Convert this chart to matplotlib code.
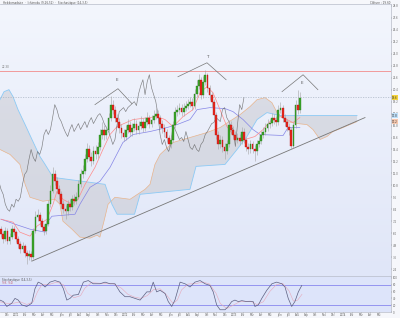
import numpy as np
import matplotlib
matplotlib.use('Agg')
import matplotlib.pyplot as plt
from matplotlib.colors import LinearSegmentedColormap

# weekly candles (week 0 .. 139), open = previous close
first_open = 6.4
close = [5.9, 5.4, 6.2, 5.2, 5.6, 6.4, 6.1, 5.4, 4.9, 4.4,
         4.7, 4.0, 3.7, 3.9, 3.6, 6.2, 7.6, 7.8, 7.2, 6.6,
         6.2, 6.9, 8.9, 10.2, 11.9, 11.2, 10.4, 9.9, 8.9, 8.4,
         8.2, 8.9, 8.6, 9.4, 9.2, 9.6, 10.9, 11.9, 12.2, 13.4,
         14.4, 13.6, 13.2, 14.2, 13.9, 14.6, 15.9, 16.4, 15.9, 16.4,
         17.6, 18.9, 18.4, 17.6, 17.2, 16.6, 16.1, 15.7, 16.4, 16.9,
         16.2, 16.6, 17.0, 16.4, 16.8, 17.2, 16.6, 17.2, 17.6, 17.0,
         17.4, 17.8, 18.0, 17.6, 17.0, 16.6, 16.2, 15.6, 14.9, 15.4,
         16.9, 18.2, 18.4, 18.6, 18.2, 18.6, 18.8, 19.0, 19.2, 18.8,
         20.0, 20.8, 21.4, 19.9, 21.2, 21.9, 20.6, 19.9, 19.2, 17.9,
         15.9, 14.9, 15.4, 14.6, 14.2, 14.9, 16.9, 16.4, 15.9, 15.4,
         15.6, 15.2, 16.2, 15.4, 14.6, 14.4, 14.9, 14.4, 14.2, 14.9,
         15.2, 15.9, 16.2, 16.6, 17.0, 17.1, 17.6, 17.4, 17.2, 18.4,
         18.6, 17.6, 17.2, 16.7, 16.4, 14.7, 16.9, 18.9, 18.4, 19.6]
high = [6.7, 6.2, 6.6, 6.5, 6.0, 6.8, 6.7, 6.3, 5.7, 5.2,
        5.1, 4.9, 4.3, 4.3, 4.2, 6.5, 8.2, 8.4, 8.1, 7.5,
        6.9, 7.3, 9.3, 10.8, 12.6, 12.3, 11.6, 10.8, 10.2, 9.3,
        8.8, 9.3, 9.4, 9.8, 9.9, 10.1, 11.3, 12.4, 12.8, 13.9,
        15.0, 14.8, 14.1, 14.7, 14.8, 15.1, 16.5, 17.2, 16.9, 16.8,
        18.1, 19.8, 19.4, 18.8, 18.0, 17.6, 17.0, 16.5, 16.9, 17.5,
        17.3, 17.1, 17.6, 17.4, 17.3, 17.8, 17.6, 17.7, 18.2, 17.9,
        17.9, 18.4, 18.6, 18.4, 17.9, 17.4, 17.0, 16.5, 15.9, 15.9,
        17.3, 18.7, 18.9, 19.1, 19.0, 19.1, 19.3, 19.5, 19.7, 19.6,
        20.5, 21.4, 22.0, 21.7, 21.8, 22.4, 22.1, 20.9, 20.2, 19.5,
        18.2, 16.3, 15.9, 15.8, 15.0, 15.4, 17.4, 17.3, 16.8, 16.3,
        16.1, 16.0, 16.7, 16.6, 15.7, 15.0, 15.4, 15.2, 14.8, 15.3,
        15.7, 16.3, 16.7, 17.1, 17.5, 17.5, 18.1, 18.0, 17.8, 18.9,
        19.2, 18.9, 18.0, 17.5, 17.1, 16.7, 17.2, 19.4, 20.4, 20.2]
low = [5.6, 5.0, 5.2, 4.9, 4.9, 5.4, 5.8, 5.1, 4.5, 4.0,
       4.1, 3.6, 2.9, 3.3, 3.2, 3.4, 6.0, 7.2, 6.8, 6.2,
       5.8, 5.9, 6.7, 8.6, 10.0, 10.8, 10.0, 9.4, 8.5, 8.0,
       7.4, 7.8, 8.2, 8.3, 8.8, 8.9, 9.4, 10.6, 11.5, 11.9,
       13.1, 13.2, 12.7, 12.9, 13.4, 13.5, 14.3, 15.5, 15.4, 15.5,
       16.1, 17.3, 18.0, 17.2, 16.7, 16.1, 15.6, 15.2, 15.4, 16.1,
       15.8, 15.8, 16.3, 16.0, 16.0, 16.5, 16.2, 16.3, 16.9, 16.6,
       16.7, 17.1, 17.5, 17.2, 16.6, 16.1, 15.7, 15.1, 14.4, 14.5,
       15.1, 16.6, 17.8, 18.0, 17.8, 17.8, 18.3, 18.5, 18.7, 18.4,
       18.5, 19.7, 20.5, 19.5, 19.6, 20.9, 20.2, 19.4, 18.7, 17.5,
       15.5, 14.4, 14.5, 14.1, 13.4, 13.9, 14.6, 16.0, 15.5, 15.0,
       15.0, 14.8, 14.9, 15.0, 14.2, 13.9, 14.0, 14.0, 13.2, 13.8,
       14.6, 14.9, 15.6, 15.9, 16.3, 16.6, 16.8, 17.0, 16.8, 16.9,
       18.1, 17.2, 16.8, 16.3, 15.9, 14.4, 14.5, 16.6, 18.0, 18.1]

# ichimoku lines (week, price)
tenkan_w = [0, 5.6, 8.8, 13.5, 16.7, 21.4, 24.2, 26.0, 28.8, 33.0, 35.8, 39.1,
            43.7, 47.4, 50.7, 54.0, 61.4, 72.6, 76.3, 80.0, 84.7, 89.3, 92.6,
            95.8, 98.6, 100.9, 105.1, 108.8, 113.5, 118.1, 121.9, 125.1, 129.8,
            133.0, 135.8, 139.0]
tenkan_p = [7.4, 7.1, 6.1, 5.7, 6.7, 7.4, 8.9, 10.2, 9.4, 8.9, 9.4, 10.9,
            12.6, 14.4, 15.9, 16.7, 17.4, 17.7, 17.4, 16.7, 17.7, 18.4, 20.1,
            20.7, 20.1, 18.9, 16.7, 15.6, 15.4, 15.7, 16.4, 17.2, 17.7,
            17.4, 17.1, 17.6]
kijun_w = [0, 6.5, 13.5, 20.5, 21.9, 23.7, 34.4, 36.7, 41.4, 46.0, 50.7, 56.7,
           61.4, 69.3, 77.2, 81.9, 87.9, 91.2, 97.2, 104.2, 107.9, 112.6, 117.2,
           120.5, 131.2, 133.5, 139.0]
kijun_p = [7.4, 6.9, 6.4, 6.1, 7.2, 7.7, 7.9, 8.9, 10.6, 11.2, 12.6, 15.1,
           15.9, 16.2, 16.6, 16.9, 17.4, 18.4, 18.6, 18.5, 18.2, 17.4, 16.4,
           15.9, 15.8, 16.6, 16.6]
spana_w = [-0.5, 4.2, 8.8, 11.2, 13.5, 19.5, 25.1, 27.4, 28.8, 33.0, 36.7, 41.4,
           44.7, 46.0, 47.9, 49.8, 53.0, 60.0, 67.0, 69.3, 71.6, 74.0, 80.0,
           87.9, 95.8, 101.9, 111.2, 115.8, 119.1, 122.8, 126.0, 128.4, 133.0,
           137.7, 142.3, 145.1, 148.4, 151.6, 154.4, 159.1, 162.3, 165.6]
spana_p = [14.4, 13.9, 12.9, 10.9, 9.6, 9.2, 9.4, 8.9, 7.2, 6.4, 5.6, 5.5,
           5.8, 5.6, 7.2, 8.9, 9.6, 9.4, 10.4, 10.9, 12.9, 13.9, 15.1,
           15.6, 16.1, 16.6, 17.9, 18.7, 19.4, 19.6, 19.1, 18.1, 17.2,
           17.0, 16.9, 16.4, 15.4, 15.7, 16.2, 16.6, 16.9, 17.2]
spanb_w = [-0.5, 1.4, 3.7, 5.6, 7.9, 11.2, 14.4, 18.1, 20.5, 24.2, 48.4, 51.6,
           54.0, 62.1, 64.7, 87.9, 90.7, 104.2, 109.8, 114.4, 119.1, 123.7,
           129.8, 165.6]
spanb_p = [19.4, 20.2, 20.4, 19.7, 18.4, 16.9, 15.4, 13.7, 12.9, 11.6, 10.9, 8.9,
           7.9, 7.9, 9.9, 10.4, 12.7, 12.9, 14.4, 15.7, 17.4, 18.1,
           17.8, 17.8]
chikou_shift = 26

# drawn objects: resistance, trend line, head & shoulders
resistance = 22.3
last_level = 19.7
trend_w = [14.4, 169.3]
trend_p = [3.2, 17.6]
hs_labels = ['E', 'T', 'E']
hs_w = [[43.7, 54.4, 60.9], [82.3, 95.8, 104.7], [130.7, 140.5, 147.4]]
hs_p = [[18.9, 20.5, 19.0], [21.7, 23.1, 21.4], [20.2, 21.9, 20.4]]
hs_lab_w = [54.0, 95.8, 140.0]
hs_lab_p = [21.4, 23.7, 21.1]

# stochastic %K and %D
stk_w = [-0.5, 1.1, 2.7, 5.0, 6.5, 8.0, 9.6, 12.0, 14.3, 15.8, 17.3, 18.9, 20.5,
         22.8, 25.1, 27.4, 29.0, 30.6, 32.1, 33.6, 36.0, 38.3, 40.6, 42.9, 46.0,
         48.4, 50.7, 53.0, 55.3, 57.7, 60.0, 62.3, 64.7, 67.8, 69.3, 70.8, 72.4,
         74.0, 76.3, 77.8, 79.4, 80.9, 83.3, 85.6, 87.9, 90.2, 92.6, 94.9, 97.2,
         98.7, 100.3, 101.9, 104.2, 105.7, 107.3, 108.8, 110.4, 112.0, 114.3,
         117.3, 118.1, 119.7, 121.3, 123.6, 126.0, 128.2, 130.6, 132.1, 133.6,
         135.2, 136.7, 138.3, 139.9]
stk_v = [35, 30.6, 16.3, 25.7, 40, 35, 20.9, 16.3, 25.7, 68.6, 87.7, 82.9, 73.4,
         87.7, 92.3, 87.7, 68.6, 35, 40, 49.4, 51.4, 87.7, 92.3, 82.9, 82.9,
         87.7, 82.9, 82.9, 59.1, 44.9, 44.9, 40, 35, 59.1, 59.1, 87.7, 59.1,
         63.7, 54.3, 30.6, 16.3, 35, 87.7, 82.9, 73.4, 87.7, 92.3, 82.9, 78,
         59.1, 20.9, 6.6, 6.6, 16.3, 30.6, 35, 30.6, 33.3, 30.6,
         30.6, 16.3, 20.9, 40, 63.7, 82.9, 87.7, 82.9, 73.4, 40,
         16.3, 30.6, 59.1, 78]
std_w = [-0.5, 3, 6, 9, 12, 15, 17, 19, 22, 26, 29, 31, 34, 37, 39, 42, 47, 52,
         56, 59, 62, 65, 68, 71, 74, 77, 80, 82, 84, 87, 91, 94, 97, 100, 102,
         105, 108, 111, 116, 119, 122, 125, 128, 131, 134, 136, 138, 140]
std_v = [30, 25, 26, 30, 22, 30, 60, 80, 80, 88, 80, 55, 42, 48, 70, 86, 84, 84,
         70, 52, 44, 40, 48, 66, 68, 50, 25, 35, 65, 82, 84, 88, 82, 55, 25,
         10, 20, 30, 32, 22, 30, 60, 80, 84, 62, 32, 35, 52]

month_names = ['Fév', 'Mar', 'Avr', 'Mai', 'Juin', 'Juil', 'Aoû', 'Sep', 'Oct', 'Nov', 'Déc']
years = ['2011', '2012', '2013', '2014']
first_month_week = 7.0
weeks_per_month = 4.22

close = np.array(close)
high = np.array(high)
low = np.array(low)
opn = np.r_[first_open, close[:-1]]
wk = np.arange(len(close))

fig = plt.figure(figsize=(4.0, 3.18), dpi=100)
fig.patch.set_facecolor('#f6f7fb')
ax = fig.add_axes([0.0, 42 / 318, 391 / 400, 272 / 318])
axs = fig.add_axes([0.0, 6 / 318, 391 / 400, 36 / 318])

xmin, xmax = -0.47, 181.4
ylo, yhi = 1.7, 29.0

bg = LinearSegmentedColormap.from_list('bg', ['#e0e6f8', '#f3f6fd'])
ax.imshow(np.linspace(0, 1, 256).reshape(-1, 1), extent=[0, 1, 0, 1],
          transform=ax.transAxes, cmap=bg, aspect='auto', origin='lower', zorder=0)
axs.set_facecolor('#dde4fa')

# cloud
ax.fill(np.r_[spana_w, spanb_w[::-1]], np.r_[spana_p, spanb_p[::-1]],
        color='#c2c2c8', alpha=0.45, lw=0, zorder=1)
ax.plot(spana_w, spana_p, color='#e8b48c', lw=0.5, zorder=2)
ax.plot(spanb_w, spanb_p, color='#8ccaf5', lw=0.6, zorder=2)
ax.plot(kijun_w, kijun_p, color='#8585e6', lw=0.5, zorder=3)
ax.plot(tenkan_w, tenkan_p, color='#ff8a8a', lw=0.5, zorder=3)
ax.plot(wk - chikou_shift, close, color='#606060', lw=0.45, alpha=0.8, zorder=3)

ax.axhline(resistance, color='#f29a9a', lw=0.7, zorder=2)
ax.axhline(last_level, color='#a4b0bf', lw=0.45, ls=(0, (2, 2)), zorder=2)
ax.plot(trend_w, trend_p, color='#777777', lw=0.6, zorder=4)
for lab, xs, ys, lx, ly in zip(hs_labels, hs_w, hs_p, hs_lab_w, hs_lab_p):
    ax.plot(xs, ys, color='#777777', lw=0.5, zorder=4)
    ax.text(lx, ly, lab, fontsize=3.0, color='#555555', ha='center', va='center', zorder=5)

# candles
up = close >= opn
body_lo = np.minimum(opn, close)
body_h = np.maximum(np.abs(close - opn), 0.08)
ax.vlines(wk, low, high, color='#a4a4a4', lw=0.4, zorder=5)
ax.bar(wk[up], body_h[up], bottom=body_lo[up], width=0.8,
       color='#3ba52a', edgecolor='#237a16', lw=0.25, zorder=6)
ax.bar(wk[~up], body_h[~up], bottom=body_lo[~up], width=0.8,
       color='#e8261c', edgecolor='#b01515', lw=0.25, zorder=6)

ax.set_xlim(xmin, xmax)
ax.set_ylim(ylo, yhi)
ax.yaxis.tick_right()
yt = np.arange(2.4, 28.9, 1.2)
ax.set_yticks(yt)
ax.set_yticklabels(['%.1f' % v for v in yt], fontsize=1.9, color='#666666')
ax.tick_params(axis='y', length=0.8, width=0.3, pad=0.4)
ax.set_xticks([])
for s in ax.spines.values():
    s.set_color('#b8bcc8')
    s.set_linewidth(0.5)
ax.spines['left'].set_visible(False)

# price label boxes on the right axis
for val, fc in [(close[-1], '#f5d33a'), (spanb_p[-1], '#bfe0fa'), (spana_p[-1], '#f7c9b0')]:
    ax.text(1.003, (val - ylo) / (yhi - ylo), '%.1f' % val, transform=ax.transAxes,
            fontsize=1.9, color='#333333', va='center', ha='left',
            bbox=dict(boxstyle='square,pad=0.1', fc=fc, ec='none'))
ax.text(0.005, resistance + 0.2, '%.2f' % resistance, fontsize=2.0, color='#777777',
        transform=ax.get_yaxis_transform(), va='bottom')

# stochastic panel
axs.axhline(80, color='#9494f0', lw=0.7)
axs.axhline(20, color='#9494f0', lw=0.7)
axs.plot(std_w, std_v, color='#e6a8ba', lw=0.4)
axs.plot(stk_w, stk_v, color='#5c5f80', lw=0.5)
axs.set_xlim(xmin, xmax)
axs.set_ylim(0, 105.7)
axs.yaxis.tick_right()
axs.set_yticks([0, 20, 40, 60, 80, 100])
axs.set_yticklabels(['0', '20', '40', '60', '80', '100'], fontsize=1.9, color='#666666')
axs.tick_params(axis='y', length=0.8, width=0.3, pad=0.4)
for s in axs.spines.values():
    s.set_color('#b8bcc8')
    s.set_linewidth(0.5)
axs.spines['left'].set_visible(False)
axs.text(0.005, 0.95, 'Stochastique (14,3,5)', transform=axs.transAxes,
         fontsize=2.0, color='#555555', va='top')
axs.text(0.005, 0.86, '%K  %D', transform=axs.transAxes,
         fontsize=2.0, color='#c06070', va='top')

labels = []
for y in years:
    labels.append(y)
    labels.extend(month_names)
labels = ['Déc'] + labels
ticks = first_month_week + weeks_per_month * (np.arange(len(labels)) - 1)
keep = (ticks > xmin + 1) & (ticks < xmax - 2)
axs.set_xticks(ticks[keep])
axs.set_xticklabels(np.array(labels)[keep], fontsize=1.8, color='#555555')
axs.tick_params(axis='x', length=0.6, width=0.3, pad=0.2)

fig.text(0.008, 0.997, 'Hebdomadaire  ·  Ichimoku (9,26,52)  ·  Stochastique (14,3,5)',
         fontsize=2.0, color='#555555', va='top')
fig.text(0.975, 0.997, 'Clôture : %.2f' % close[-1], fontsize=2.0, color='#555555',
         va='top', ha='right')

fig.savefig('out.png', dpi=100)
